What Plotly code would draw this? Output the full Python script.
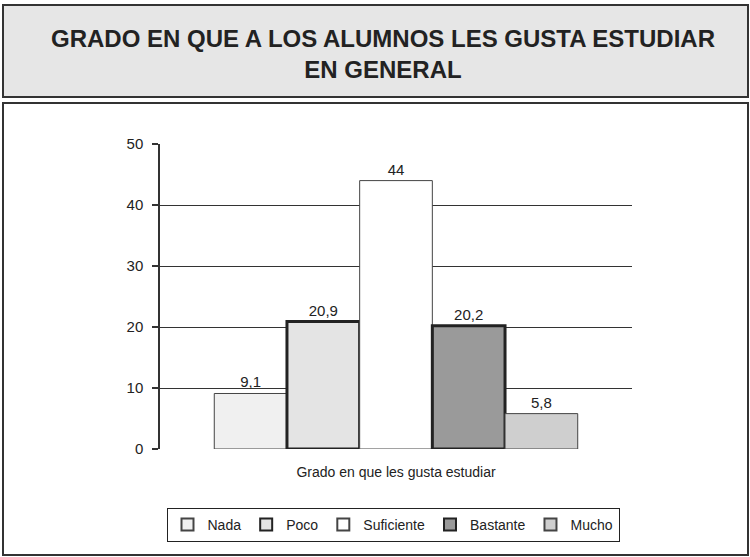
import plotly.graph_objects as go

categories = ["Grado en que les gusta estudiar"]
series_names = ["Nada", "Poco", "Suficiente", "Bastante", "Mucho"]
series_values = [9.1, 20.9, 44, 20.2, 5.8]
series_colors = ["#f0f0f0", "#e4e4e4", "#ffffff", "#9a9a9a", "#cfcfcf"]
series_line_colors = ["#444444", "#222222", "#444444", "#222222", "#444444"]
series_line_widths = [1, 3, 1, 3, 1]
y_ticks = [0, 10, 20, 30, 40, 50]

W, H = 750, 557
L, R, T, B = 160, 118, 144, 108
pw, ph = W - L - R, H - T - B

def px(x):
    return (x - L) / pw

def py(y):
    return (H - B - y) / ph

fig = go.Figure()
for name, v, c, lc, lw in zip(series_names, series_values, series_colors, series_line_colors, series_line_widths):
    fig.add_trace(go.Bar(
        name=name, x=[""], y=[v],
        marker=dict(color=c, line=dict(color=lc, width=lw)),
        text=[("%g" % v).replace(".", ",")], textposition="outside",
        textfont=dict(size=15, color="#222"), cliponaxis=False,
    ))

font = "Liberation Sans, Arial, sans-serif"
fig.update_layout(
    width=W, height=H, margin=dict(l=L, r=R, t=T, b=B, autoexpand=False),
    paper_bgcolor="white", plot_bgcolor="white",
    font=dict(family=font, size=14, color="#222"),
    barmode="group", bargap=0.23, bargroupgap=0,
    showlegend=True,
    legend=dict(orientation="h", x=px(393), xanchor="center", y=py(525), yanchor="middle",
                bordercolor="#222", borderwidth=1, font=dict(size=14),
                itemsizing="constant", traceorder="normal", itemwidth=30),
    xaxis=dict(showticklabels=False, showline=False, showgrid=False, ticks="", automargin=False,
               title=dict(text=categories[0], font=dict(size=14), standoff=18)),
    yaxis=dict(range=[0, 50], tickvals=y_ticks, showline=True, linecolor="#333", linewidth=1.5,
               showgrid=True, gridcolor="#333", gridwidth=1, ticks="outside", ticklen=6,
               tickwidth=1.5, ticklabelstandoff=6,
               tickcolor="#333", tickfont=dict(size=15), zeroline=False, automargin=False),
)

shapes = [
    dict(type="rect", xref="paper", yref="paper", x0=px(3), x1=px(748), y0=py(5), y1=py(97),
         fillcolor="#e6e6e6", line=dict(color="#333", width=2), layer="below"),
    dict(type="rect", xref="paper", yref="paper", x0=px(3), x1=px(748), y0=py(103), y1=py(555),
         fillcolor="rgba(0,0,0,0)", line=dict(color="#333", width=2), layer="below"),
]
fig.update_layout(shapes=shapes)
fig.add_annotation(xref="paper", yref="paper", x=px(383), y=py(54), showarrow=False,
                   yanchor="middle", xanchor="center",
                   text="<b>GRADO EN QUE A LOS ALUMNOS LES GUSTA ESTUDIAR<br>EN GENERAL</b>",
                   font=dict(family=font, size=24, color="#222"), align="center")

fig.write_html("out.html", config={"displayModeBar": False},
               post_script="document.body.style.margin='0';document.body.style.overflow='hidden';")
